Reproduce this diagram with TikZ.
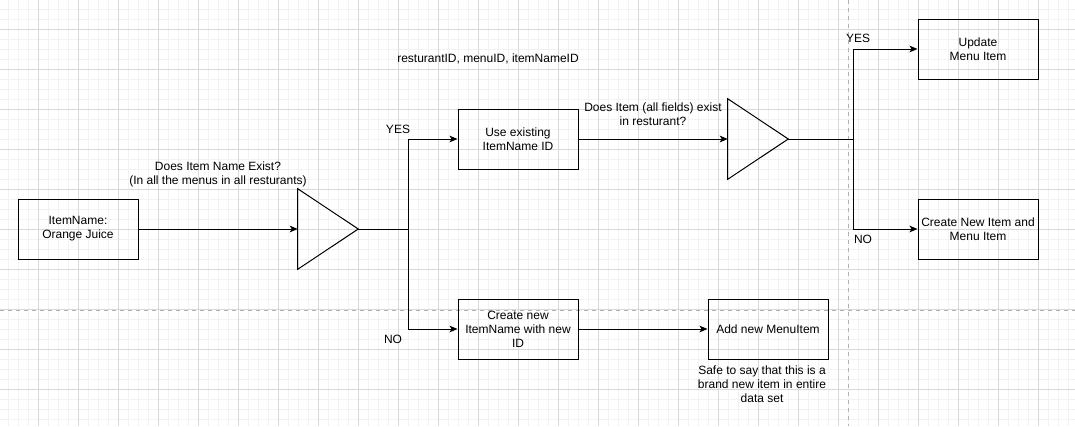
\documentclass[tikz,border=0pt]{standalone}
\usepackage{fontspec}
\setmainfont{Liberation Sans}
\usetikzlibrary{positioning, arrows.meta}

\begin{document}
\begin{tikzpicture}[
            x=0.75pt, y=-0.75pt,
            every node/.style={font=\fontsize{9}{10.5}\selectfont, align=center},
            box/.style={draw, line width=0.75pt, minimum width=90pt, minimum height=45pt, inner sep=2pt},
            decision/.style={minimum width=45pt, minimum height=60pt, inner sep=0pt},
            flow/.style={line width=0.75pt, -{Stealth[length=6pt, width=5pt, inset=1.5pt]}},
            note/.style={inner sep=0pt},
            gridminor/.style={draw=black!5, line width=0.5pt},
            gridmajor/.style={draw=black!15, line width=0.6pt},
            pagebreak/.style={draw=black!30, dashed, line width=0.6pt}
        ]

        \useasboundingbox (0,0) rectangle (1075,426);

        % background grid
        \foreach \gx in {8,18,...,1068} \draw[gridminor] (\gx,0) -- (\gx,426);
        \foreach \gy in {9,19,...,419} \draw[gridminor] (0,\gy) -- (1075,\gy);
        \foreach \gx in {38,78,...,1038} \draw[gridmajor] (\gx,0) -- (\gx,426);
        \foreach \gy in {29,69,...,389} \draw[gridmajor] (0,\gy) -- (1075,\gy);

        % page breaks
        \draw[pagebreak] (848,0) -- (848,426);
        \draw[pagebreak] (0,310) -- (1075,310);

        % Root node
        \node[box] (itemname) at (78,229) {ItemName:\\Orange Juice};

        % first check
        \node[decision] (nameexists) at (328,229) {};
        \draw[line width=0.75pt] (nameexists.north west) -- (nameexists.east) -- (nameexists.south west) -- cycle;
        \node[note] (nameq) at (218,174) {Does Item Name Exist?\\(In all the menus in all resturants)};

        \node[box] (useid) at (518,139) {Use existing\\ItemName ID};
        \node[box] (newid) at (518,329) {Create new\\ItemName with new\\ID};
        \node[box] (addmenuitem) at (768,329) {Add new MenuItem};
        \node[note] (safenote) at (762,384) {Safe to say that this is a\\brand new item in entire\\data set};
        \node[note] (idsnote) at (488,59) {resturantID, menuID, itemNameID};

        % second check
        \node[decision] (itemexists) at (758,139) {};
        \draw[line width=0.75pt] (itemexists.north west) -- (itemexists.east) -- (itemexists.south west) -- cycle;
        \node[note] (itemq) at (653,114) {Does Item (all fields) exist\\in resturant?};

        \node[box] (update) at (978,49) {Update\\Menu Item};
        \node[box] (createnew) at (978,229) {Create New Item and\\Menu Item};

        % branch labels
        \node[note] (yes1) at (398,129) {YES};
        \node[note] (no1) at (393,339) {NO};
        \node[note] (yes2) at (858,38) {YES};
        \node[note] (no2) at (863,239) {NO};

        % connectors
        \draw[flow] (itemname) -- (nameexists.west);
        \draw[flow] (nameexists.east) -- ++(50,0) |- (useid.west);
        \draw[flow] (nameexists.east) -- ++(50,0) |- (newid.west);
        \draw[flow] (newid) -- (addmenuitem);
        \draw[flow] (useid) -- (itemexists.west);
        \draw[flow] (itemexists.east) -- ++(65,0) |- (update.west);
        \draw[flow] (itemexists.east) -- ++(65,0) |- (createnew.west);
    \end{tikzpicture}
\end{document}
